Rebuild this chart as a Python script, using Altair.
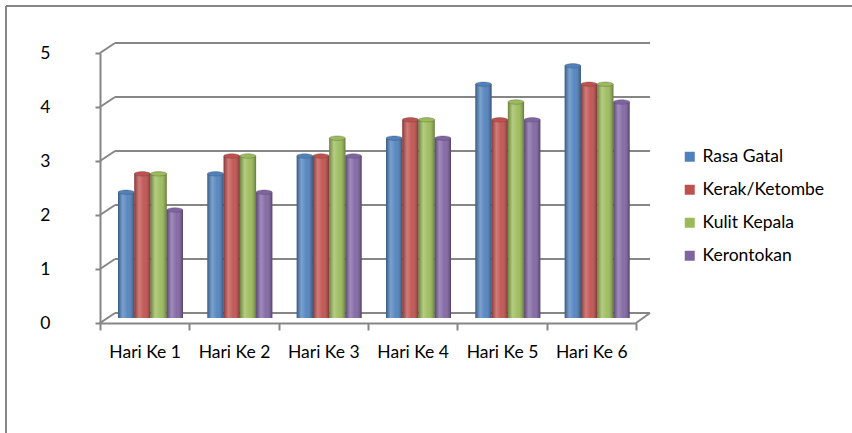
import altair as alt
import pandas as pd

days = ["Hari Ke 1", "Hari Ke 2", "Hari Ke 3", "Hari Ke 4", "Hari Ke 5", "Hari Ke 6"]
series = ["Rasa Gatal", "Kerak/Ketombe", "Kulit Kepala", "Kerontokan"]
rasa_gatal = [2.33, 2.67, 3.0, 3.33, 4.33, 4.67]
kerak_ketombe = [2.67, 3.0, 3.0, 3.67, 3.67, 4.33]
kulit_kepala = [2.67, 3.0, 3.33, 3.67, 4.0, 4.33]
kerontokan = [2.0, 2.33, 3.0, 3.33, 3.67, 4.0]
colors = ["#4F81BD", "#C0504D", "#9BBB59", "#8064A2"]
y_ticks = [0, 1, 2, 3, 4, 5]

rows = []
for s, vals in zip(series, [rasa_gatal, kerak_ketombe, kulit_kepala, kerontokan]):
    for d, v in zip(days, vals):
        rows.append({"day": d, "series": s, "value": v})
df = pd.DataFrame(rows)
tick_df = pd.DataFrame({"v": y_ticks})
day_df = pd.DataFrame({"day": days})

FONT = "Lato"
FS = 17.5
GRID = "#868686"

yscale = alt.Scale(domain=[0, 5])
yaxis = alt.Axis(title=None, values=y_ticks, grid=False, domainColor=GRID, domainWidth=2,
                 tickColor=GRID, tickWidth=2, tickSize=5, labelPadding=45,
                 labelFont=FONT, labelFontSize=FS, labelColor="black", labelAlign="right")
xaxis = alt.Axis(title=None, labelAngle=0, tickBand="extent", grid=False, domainColor=GRID,
                 domainWidth=2, tickColor=GRID, tickWidth=2, tickSize=7, labelPadding=13,
                 labelFont=FONT, labelFontSize=FS, labelColor="black")

# axis-only layer (front floor edge)
axis_layer = alt.Chart(day_df).mark_rule(opacity=0).encode(
    x=alt.X("day:N", sort=days, scale=alt.Scale(paddingInner=0, paddingOuter=0), axis=xaxis),
    y=alt.value(0), y2=alt.value(1))

# bars sit a little behind the front edge
xenc = alt.X("day:N", sort=days, axis=None,
             scale=alt.Scale(paddingInner=0.2724, paddingOuter=0.1362, align=0.74))
xoff = alt.XOffset("series:N", sort=series, scale=alt.Scale(paddingInner=0))
yenc = alt.Y("value:Q", scale=yscale, axis=yaxis)

grid = alt.Chart(tick_df).mark_rule(color=GRID, strokeWidth=2, yOffset=-10).encode(
    y=alt.Y("v:Q", scale=yscale, axis=yaxis), x=alt.value(15), x2=alt.value(550))
diag = alt.Chart(tick_df).mark_rule(color=GRID, strokeWidth=2, y2Offset=-10).encode(
    y=alt.Y("v:Q", scale=yscale, axis=yaxis), y2=alt.Y2("v:Q"), x=alt.value(0), x2=alt.value(15))
floor_r = alt.Chart(tick_df.head(1)).mark_rule(color=GRID, strokeWidth=2).encode(
    x=alt.value(536), x2=alt.value(550), y=alt.value(270), y2=alt.value(260))

bars = alt.Chart(df).mark_bar(yOffset=-5, y2Offset=-5).encode(
    x=xenc, xOffset=xoff, y=yenc,
    color=alt.Color("series:N", sort=series, scale=alt.Scale(domain=series, range=colors),
                    legend=alt.Legend(title=None, orient="none", legendX=581, legendY=95,
                                      symbolType="square", symbolSize=100, symbolStrokeWidth=0,
                                      labelFont=FONT, labelFontSize=FS, labelColor="black",
                                      rowPadding=14, labelOffset=4)))

grad = alt.Gradient(gradient="linear", x1=0, x2=1, y1=0, y2=0, stops=[
    alt.GradientStop(color="rgba(0,0,0,0.30)", offset=0),
    alt.GradientStop(color="rgba(255,255,255,0.25)", offset=0.3),
    alt.GradientStop(color="rgba(255,255,255,0.05)", offset=0.6),
    alt.GradientStop(color="rgba(0,0,0,0.35)", offset=1),
])
shade = alt.Chart(df).mark_bar(yOffset=-5, y2Offset=-5, fill=grad).encode(
    x=xenc, xOffset=xoff, y=yenc)

ellipse = "M-1,0 A1,0.28 0 1,0 1,0 A1,0.28 0 1,0 -1,0 Z"
tops = alt.Chart(df).mark_point(shape=ellipse, size=256, filled=True, opacity=1,
                                yOffset=-5, stroke="#444", strokeWidth=0.5,
                                strokeOpacity=0.6).encode(
    x=xenc, xOffset=xoff, y=yenc,
    color=alt.Color("series:N", sort=series, scale=alt.Scale(domain=series, range=colors), legend=None))

border_l = alt.Chart(tick_df.head(1)).mark_rule(color=GRID, strokeWidth=2).encode(
    x=alt.value(-94), y=alt.value(-47), y2=alt.value(400))
border_t = alt.Chart(tick_df.head(1)).mark_rule(color=GRID, strokeWidth=2).encode(
    x=alt.value(-94), x2=alt.value(800), y=alt.value(-47))

chart = alt.layer(grid, diag, floor_r, axis_layer, bars, shade, tops, border_l, border_t).resolve_scale(
    x="independent"
).properties(
    width=536, height=270,
    padding={"left": 100, "top": 53, "right": 216, "bottom": 110},
    autosize=alt.AutoSizeParams(type="none"),
    background="white",
).configure_view(stroke=None)

chart.save("out.html", embed_options={"renderer": "svg", "actions": False})
